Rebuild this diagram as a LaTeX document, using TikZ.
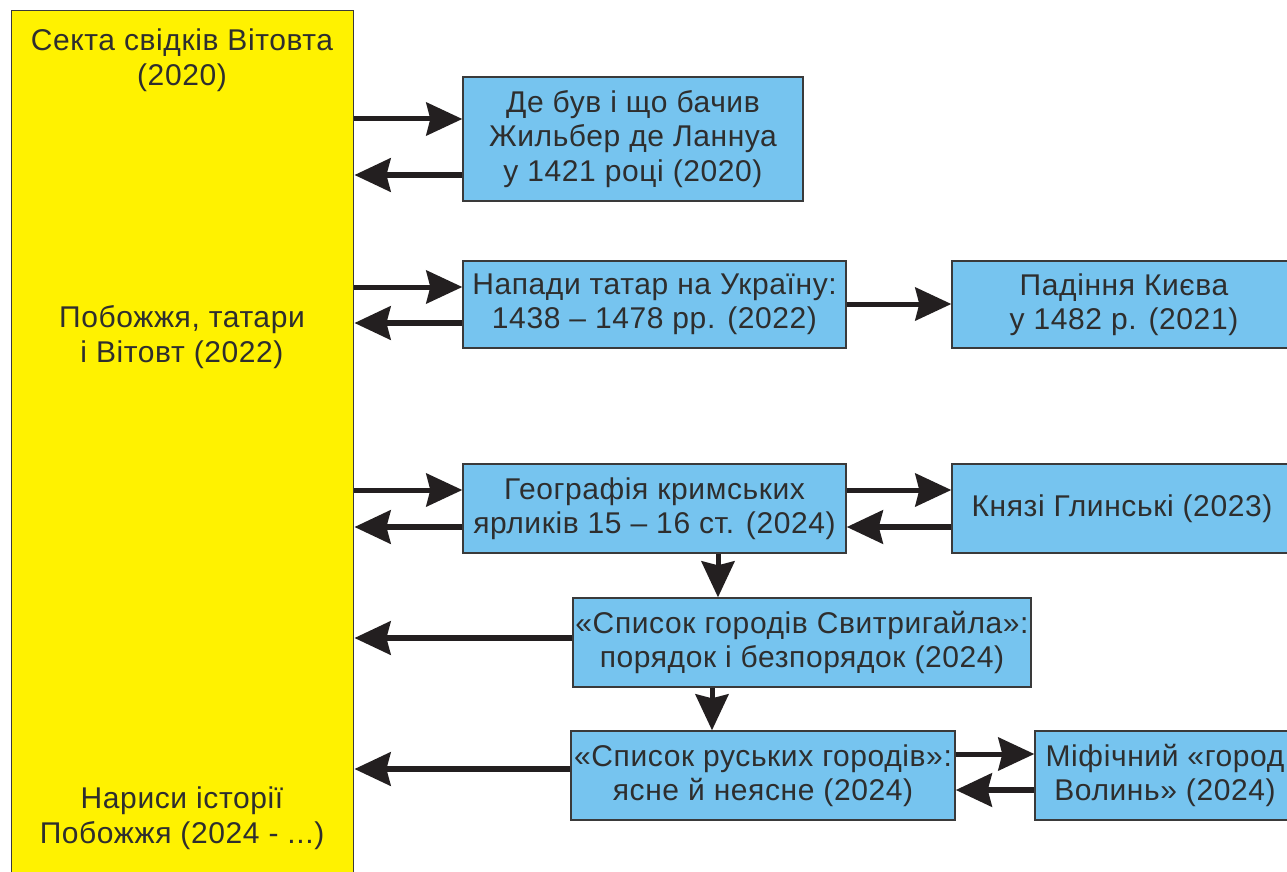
\documentclass[tikz,border=0pt]{standalone}
\usepackage{fontspec}
\setmainfont[LetterSpace=2]{Liberation Sans}
\usetikzlibrary{arrows.meta}
\definecolor{ylw}{HTML}{FFF200}
\definecolor{blu}{HTML}{76C4EF}
\definecolor{edge}{HTML}{3A3A3A}
\definecolor{ink}{HTML}{231F20}
\definecolor{txt}{HTML}{2E2E2E}
\tikzset{
  bx/.style={draw=edge, line width=1.4pt, fill=blu, inner sep=0pt, align=center,
    text=txt, font=\fontsize{30}{34.5}\selectfont},
  lbl/.style={inner sep=0pt, align=center, text=txt, font=\fontsize{30}{34.5}\selectfont},
  fw/.style={line width=5pt, draw=ink, -{Stealth[length=36pt,width=33pt,inset=4pt]}},
  bw/.style={line width=6.5pt, draw=ink, -{Stealth[length=36pt,width=33pt,inset=4pt]}},
}
\begin{document}
\begin{tikzpicture}[x=1pt,y=-1pt]
\useasboundingbox (0,0) rectangle (1287,872);
\clip (0,0) rectangle (1287,872);
\fill[white] (0,0) rectangle (1287,872);
% yellow column
\node[draw=edge, line width=1.4pt, fill=ylw, minimum width=342pt, minimum height=880pt, inner sep=0pt, anchor=north west] (Y) at (11,10) {};
\node[lbl] (t1) at (182,60) {Секта свідків Вітовта\\(2020)};
\node[lbl] (t2) at (182,337) {Побожжя, татари\\і Вітовт (2022)};
\node[lbl] (t3) at (182,818) {Нариси історії\\Побожжя (2024 - ...)};
% blue boxes
\node[bx, minimum width=340pt, minimum height=124pt] (b1) at (633,139) {Де був і що бачив\\Жильбер де Ланнуа\\у 1421 році (2020)};
\node[bx, minimum width=383pt, minimum height=87pt] (b2) at (654.5,304.5) {Напади татар на Україну:\\1438 – 1478 рр. (2022)};
\node[bx, minimum width=344pt, minimum height=87pt] (b3) at (1124,304.5) {Падіння Києва\\у 1482 р. (2021)};
\node[bx, minimum width=383pt, minimum height=89pt] (b4) at (654.5,508.5) {Географія кримських\\ярликів 15 – 16 ст. (2024)};
\node[bx, minimum width=340pt, minimum height=89pt] (b5) at (1122,508.5) {Князі Глинські (2023)};
\node[bx, minimum width=458pt, minimum height=89pt] (b6) at (802,642.5) {«Список городів Свитригайла»:\\порядок і безпорядок (2024)};
\node[bx, minimum width=384pt, minimum height=89pt] (b7) at (763,775.5) {«Список руських городів»:\\ясне й неясне (2024)};
\node[bx, minimum width=260pt, minimum height=89pt] (b8) at (1165,775.5) {Міфічний «город\\Волинь» (2024)};
% connectors
\draw[fw] (Y.east |- 0,119) -- (b1.west |- 0,119);
\draw[bw] (b1.west |- 0,175) -- (Y.east |- 0,175);
\draw[fw] (Y.east |- 0,287) -- (b2.west |- 0,287);
\draw[bw] (b2.west |- 0,323) -- (Y.east |- 0,323);
\draw[fw] (b2.east |- 0,304) -- (b3.west |- 0,304);
\draw[fw] (Y.east |- 0,490) -- (b4.west |- 0,490);
\draw[bw] (b4.west |- 0,527) -- (Y.east |- 0,527);
\draw[fw] (b4.east |- 0,490) -- (b5.west |- 0,490);
\draw[bw] (b5.west |- 0,527) -- (b4.east |- 0,527);
\draw[fw] (b4.south -| 718,0) -- (b6.north -| 718,0);
\draw[bw] (b6.west |- 0,638) -- (Y.east |- 0,638);
\draw[fw] (b6.south -| 712,0) -- (b7.north -| 712,0);
\draw[bw] (b7.west |- 0,769) -- (Y.east |- 0,769);
\draw[fw] (b7.east |- 0,754) -- (b8.west |- 0,754);
\draw[bw] (b8.west |- 0,790) -- (b7.east |- 0,790);
\end{tikzpicture}
\end{document}
